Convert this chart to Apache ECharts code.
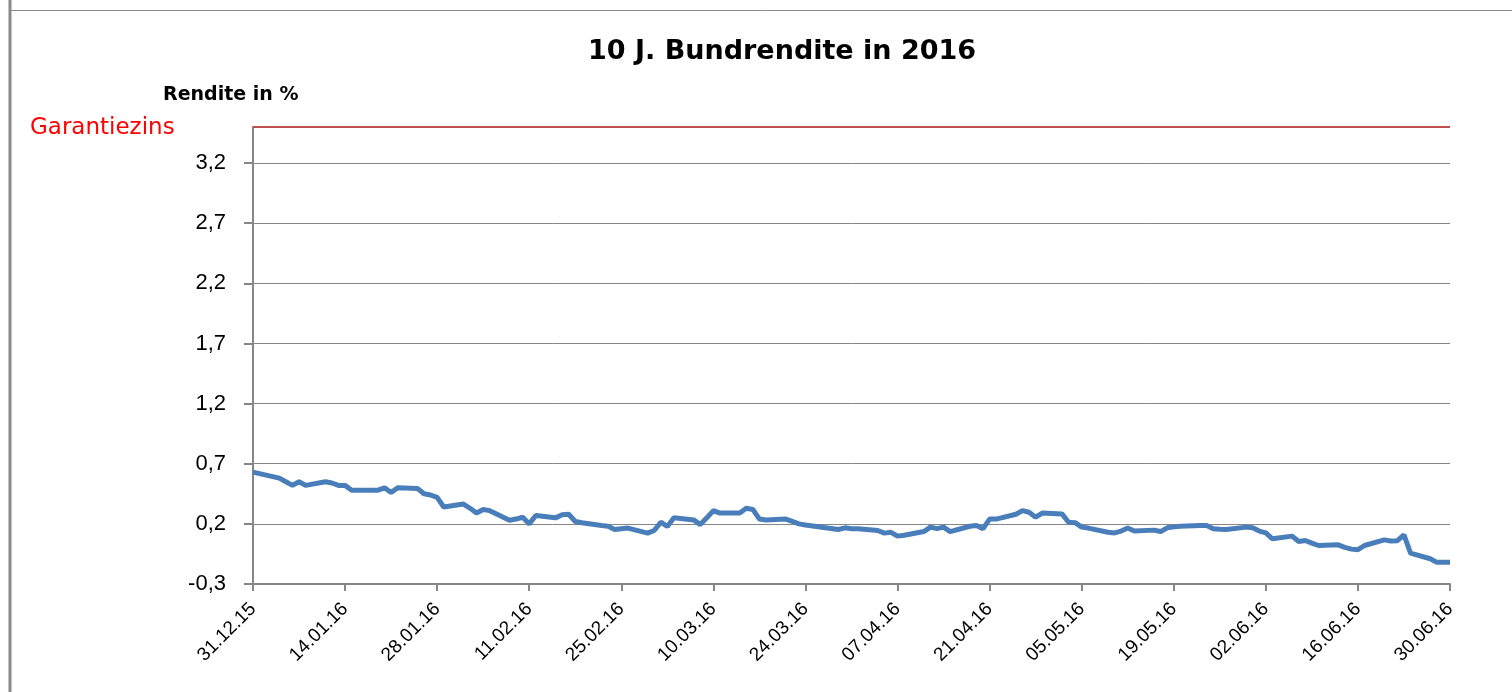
<!DOCTYPE html>
<html lang="de">
<head>
    <meta charset="UTF-8">
    <title>10 J. Bundrendite in 2016</title>
    <script src="https://cdn.jsdelivr.net/npm/echarts/dist/echarts.min.js"></script>
    <style>
        html, body { margin: 0; padding: 0; background: #fff; }
        #chart { width: 1512px; height: 692px; }
    </style>
</head>
<body>
    <div id="chart"></div>
    <script>
        // Handelstage und Rendite
        const dates = [
            '31.12.15', '04.01.16', '05.01.16', '06.01.16', '07.01.16', '08.01.16',
            '11.01.16', '12.01.16', '13.01.16', '14.01.16', '15.01.16', '18.01.16',
            '19.01.16', '20.01.16', '21.01.16', '22.01.16', '25.01.16', '26.01.16',
            '27.01.16', '28.01.16', '29.01.16', '01.02.16', '02.02.16', '03.02.16',
            '04.02.16', '05.02.16', '08.02.16', '09.02.16', '10.02.16', '11.02.16',
            '12.02.16', '15.02.16', '16.02.16', '17.02.16', '18.02.16', '19.02.16',
            '22.02.16', '23.02.16', '24.02.16', '25.02.16', '26.02.16', '29.02.16',
            '01.03.16', '02.03.16', '03.03.16', '04.03.16', '07.03.16', '08.03.16',
            '09.03.16', '10.03.16', '11.03.16', '14.03.16', '15.03.16', '16.03.16',
            '17.03.16', '18.03.16', '21.03.16', '22.03.16', '23.03.16', '24.03.16',
            '29.03.16', '30.03.16', '31.03.16', '01.04.16', '04.04.16', '05.04.16',
            '06.04.16', '07.04.16', '08.04.16', '11.04.16', '12.04.16', '13.04.16',
            '14.04.16', '15.04.16', '18.04.16', '19.04.16', '20.04.16', '21.04.16',
            '22.04.16', '25.04.16', '26.04.16', '27.04.16', '28.04.16', '29.04.16',
            '02.05.16', '03.05.16', '04.05.16', '05.05.16', '06.05.16', '09.05.16',
            '10.05.16', '11.05.16', '12.05.16', '13.05.16', '16.05.16', '17.05.16',
            '18.05.16', '19.05.16', '20.05.16', '23.05.16', '24.05.16', '25.05.16',
            '26.05.16', '27.05.16', '30.05.16', '31.05.16', '01.06.16', '02.06.16',
            '03.06.16', '06.06.16', '07.06.16', '08.06.16', '09.06.16', '10.06.16',
            '13.06.16', '14.06.16', '15.06.16', '16.06.16', '17.06.16', '20.06.16',
            '21.06.16', '22.06.16', '23.06.16', '24.06.16', '27.06.16', '28.06.16',
            '29.06.16', '30.06.16'
        ];
        const yields = [
            0.63, 0.58, 0.55, 0.52, 0.55, 0.52,
            0.55, 0.54, 0.52, 0.52, 0.48, 0.48,
            0.48, 0.50, 0.46, 0.50, 0.495, 0.45,
            0.44, 0.42, 0.34, 0.365, 0.33, 0.29,
            0.32, 0.31, 0.23, 0.24, 0.255, 0.20,
            0.27, 0.25, 0.275, 0.28, 0.22, 0.21,
            0.186, 0.18, 0.153, 0.16, 0.165, 0.123,
            0.145, 0.214, 0.178, 0.25, 0.233, 0.194,
            0.25, 0.31, 0.29, 0.29, 0.33, 0.32,
            0.24, 0.233, 0.24, 0.22, 0.20, 0.19,
            0.153, 0.167, 0.16, 0.16, 0.145, 0.123,
            0.13, 0.098, 0.105, 0.136, 0.173, 0.16,
            0.173, 0.136, 0.18, 0.186, 0.16, 0.24,
            0.24, 0.28, 0.31, 0.297, 0.256, 0.29,
            0.283, 0.214, 0.21, 0.173, 0.165, 0.13,
            0.125, 0.14, 0.165, 0.14, 0.148, 0.136,
            0.167, 0.175, 0.18, 0.186, 0.186, 0.16,
            0.155, 0.153, 0.173, 0.167, 0.14, 0.125,
            0.076, 0.098, 0.053, 0.062, 0.04, 0.02,
            0.026, 0.005, -0.01, -0.015, 0.02, 0.067,
            0.057, 0.06, 0.109, -0.043, -0.09, -0.12,
            -0.12, -0.12
        ];
        const garantiezins = 3.5;
        const yTicks = [-0.3, 0.2, 0.7, 1.2, 1.7, 2.2, 2.7, 3.2];

        const DAY = 24 * 3600 * 1000;
        function parseDate(s) {
            const p = s.split('.');
            return Date.UTC(2000 + Number(p[2]), Number(p[1]) - 1, Number(p[0]));
        }
        const start = parseDate(dates[0]);
        function dayLabel(d) {
            const t = new Date(start + d * DAY);
            const dd = String(t.getUTCDate()).padStart(2, '0');
            const mm = String(t.getUTCMonth() + 1).padStart(2, '0');
            const yy = String(t.getUTCFullYear() % 100).padStart(2, '0');
            return dd + '.' + mm + '.' + yy;
        }
        const lastDay = Math.round((parseDate(dates[dates.length - 1]) - start) / DAY);
        const points = dates.map((s, i) => [Math.round((parseDate(s) - start) / DAY), yields[i]]);

        const chart = echarts.init(document.getElementById('chart'));
        chart.setOption({
            animation: false,
            title: {
                text: '10 J. Bundrendite in 2016',
                left: 583,
                top: 33,
                textStyle: { fontFamily: 'DejaVu Sans', fontWeight: 'bold', fontSize: 27, color: '#000' }
            },
            graphic: [
                { type: 'line', shape: { x1: 10, y1: 0, x2: 10, y2: 692 }, style: { stroke: '#8a8a8a', lineWidth: 3 } },
                { type: 'line', shape: { x1: 9, y1: 10.5, x2: 1512, y2: 10.5 }, style: { stroke: '#8a8a8a', lineWidth: 1 } },
                { type: 'text', left: 163, top: 86, style: { text: 'Rendite in %', font: 'bold 19px "DejaVu Sans"', fill: '#000' } },
                { type: 'text', left: 30, top: 117, style: { text: 'Garantiezins', font: '23px "DejaVu Sans"', fill: '#ff0000' } }
            ],
            grid: { left: 253, right: 62, top: 127, bottom: 108 },
            xAxis: {
                type: 'value',
                min: 0,
                max: lastDay,
                interval: 14,
                axisLine: { onZero: false, lineStyle: { color: '#868686', width: 2 } },
                axisTick: { show: true, length: 7, lineStyle: { color: '#868686', width: 2 } },
                splitLine: { show: false },
                axisLabel: {
                    rotate: 45,
                    margin: 22,
                    color: '#000',
                    fontFamily: 'Liberation Sans',
                    fontSize: 19,
                    formatter: v => dayLabel(v)
                }
            },
            yAxis: {
                type: 'value',
                min: yTicks[0],
                max: garantiezins,
                interval: 0.5,
                axisLine: { show: true, lineStyle: { color: '#868686', width: 2 } },
                axisTick: { show: true, length: 9, lineStyle: { color: '#868686', width: 2 } },
                splitLine: { lineStyle: { color: '#868686', width: 1 } },
                axisLabel: {
                    margin: 27,
                    color: '#000',
                    fontFamily: 'Liberation Sans',
                    fontSize: 22,
                    showMaxLabel: false,
                    formatter: v => {
                        const t = yTicks.find(k => Math.abs(k - v) < 1e-6);
                        return t === undefined ? '' : t.toFixed(1).replace('.', ',');
                    }
                }
            },
            series: [{
                type: 'line',
                data: points,
                showSymbol: false,
                lineStyle: { color: '#4a7ebb', width: 5 },
                markLine: {
                    silent: true,
                    symbol: 'none',
                    label: { show: false },
                    lineStyle: { color: '#c0504d', width: 2, type: 'solid' },
                    data: [{ yAxis: garantiezins }]
                }
            }]
        });
    </script>
</body>
</html>
